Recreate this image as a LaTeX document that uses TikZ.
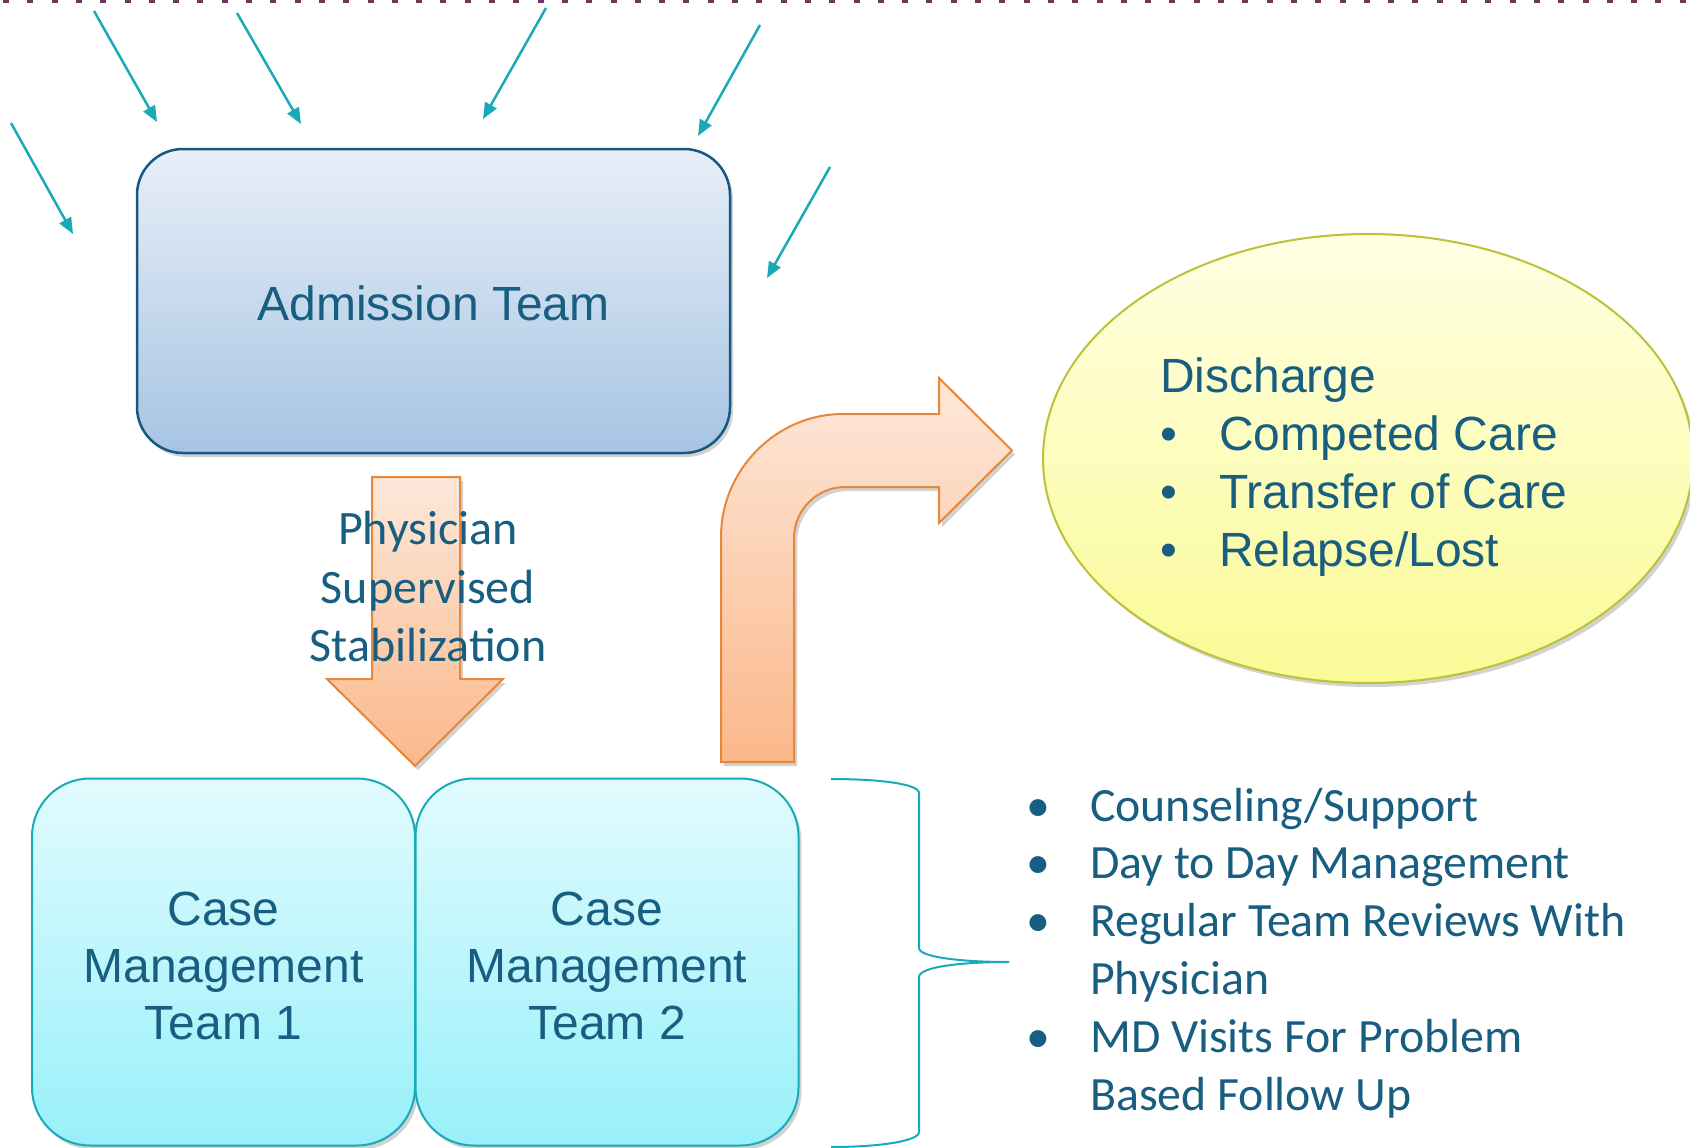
\documentclass[tikz,border=0pt]{standalone}
\usepackage{fontspec}
\setmainfont{Liberation Sans}
\newfontfamily\calibri{Carlito}
\usetikzlibrary{shapes.geometric,shadows,arrows.meta}

\definecolor{txtblue}{RGB}{23,94,128}
\definecolor{admtop}{RGB}{232,239,248}
\definecolor{admbot}{RGB}{166,196,227}
\definecolor{admline}{RGB}{22,88,128}
\definecolor{casetop}{RGB}{225,251,254}
\definecolor{casebot}{RGB}{152,240,250}
\definecolor{tealline}{RGB}{24,170,185}
\definecolor{orgline}{RGB}{230,135,58}
\definecolor{orgtop}{RGB}{253,232,218}
\definecolor{orgbot}{RGB}{251,184,138}
\definecolor{yeltop}{RGB}{255,255,228}
\definecolor{yelbot}{RGB}{250,250,150}
\definecolor{yelline}{RGB}{188,194,56}
\definecolor{dotpurple}{RGB}{112,54,96}

\newcommand{\dbul}{\makebox[59pt][l]{\hspace*{0pt}•}}
\newcommand{\cbul}{\makebox[55pt][l]{\hspace*{-9pt}•}}

\tikzset{
	softshadow/.style={drop shadow={shadow xshift=3pt,shadow yshift=-4pt,opacity=0.25,fill=black!70}},
	teambox/.style={draw=tealline,line width=2pt,rounded corners=58pt,top color=casetop,bottom color=casebot,
		minimum width=383pt,minimum height=367pt,inner sep=0pt,align=center,text=txtblue,
		font=\fontsize{48}{57}\selectfont,softshadow},
	bigarrow/.style={draw=orgline,line width=2pt,line join=miter,top color=orgtop,bottom color=orgbot,softshadow},
	inflow/.style={draw=tealline,line width=2.5pt,-{Triangle[length=16pt,width=13pt]}}
}

\begin{document}
\begin{tikzpicture}[x=1pt,y=-1pt]
		\useasboundingbox (0,0) rectangle (1690,1148);
		% top rule
		\draw[dotpurple,line width=3.5pt,dash pattern=on 6pt off 18.3pt] (3,1.75) -- (1690,1.75);
		% incoming arrows
		\foreach \i/\sx/\sy/\ex/\ey in {1/94/11/157/122, 2/237/13/301/124, 3/546/8/483/119, 4/760/25/698/136, 5/11/123/73/234, 6/830/167/767/278}{
			\coordinate (from\i) at (\sx,\sy);
			\coordinate (to\i) at (\ex,\ey);
			\draw[inflow] (from\i) -- (to\i);
		}
		% boxes
		\node[draw=admline,line width=2.5pt,rounded corners=46pt,top color=admtop,bottom color=admbot,
			minimum width=593pt,minimum height=304pt,inner sep=0pt,text=txtblue,
			font=\fontsize{48}{57}\selectfont,softshadow] (adm) at (433.5,301) {\rule{0pt}{39pt}Admission Team};
		\node[teambox] (team1) at (223.5,962) {\rule{0pt}{41pt}Case\\Management\\Team 1};
		\node[teambox] (team2) at (607,962) {\rule{0pt}{41pt}Case\\Management\\Team 2};
		% down arrow
		\draw[bigarrow] (372,477) -- (460,477) -- (460,679) -- (503,679) -- (415,766) -- (327,679) -- (372,679) -- cycle;
		\node[align=center,text=txtblue,font=\calibri\fontsize{48}{58.5}\selectfont] (phys) at (428,587) {Physician\\Supervised\\Stabilization};
		% bent arrow
		\draw[bigarrow] (721,762) -- (721,537) .. controls (721,470) and (776,414) .. (843,414) -- (939,414) -- (939,378)
			-- (1012,450.5) -- (939,523) -- (939,487) -- (845,487) .. controls (817,487) and (794,510) .. (794,538) -- (794,762) -- cycle;
		% discharge
		\node[ellipse,draw=yelline,line width=2pt,top color=yeltop,bottom color=yelbot,
			minimum width=650pt,minimum height=449pt,inner sep=0pt,softshadow] (dis) at (1368,458.5) {};
		\node[anchor=base west,align=left,inner sep=0pt,text=txtblue,font=\fontsize{48}{58}\selectfont] (distext) at (1160,566)
			{Discharge\\\dbul Competed Care\\\dbul Transfer of Care\\\dbul Relapse/Lost};
		% brace and list
		\draw[tealline,line width=2pt] (831,779) .. controls (880,779) and (919,784) .. (919,793) -- (919,948)
			.. controls (919,957) and (960,962) .. (1009,962) .. controls (960,962) and (919,967) .. (919,977)
			-- (919,1132) .. controls (919,1141) and (880,1147) .. (831,1147);
		\node[anchor=base west,align=left,inner sep=0pt,text=txtblue,font=\calibri\fontsize{47.8}{57.8}\selectfont] (care) at (1035,1110)
			{\cbul Counseling/Support\\\cbul Day to Day Management\\\cbul Regular Team Reviews With\\\hspace*{55pt}Physician\\\cbul MD Visits For Problem\\\hspace*{55pt}Based Follow Up};
	\end{tikzpicture}
\end{document}
